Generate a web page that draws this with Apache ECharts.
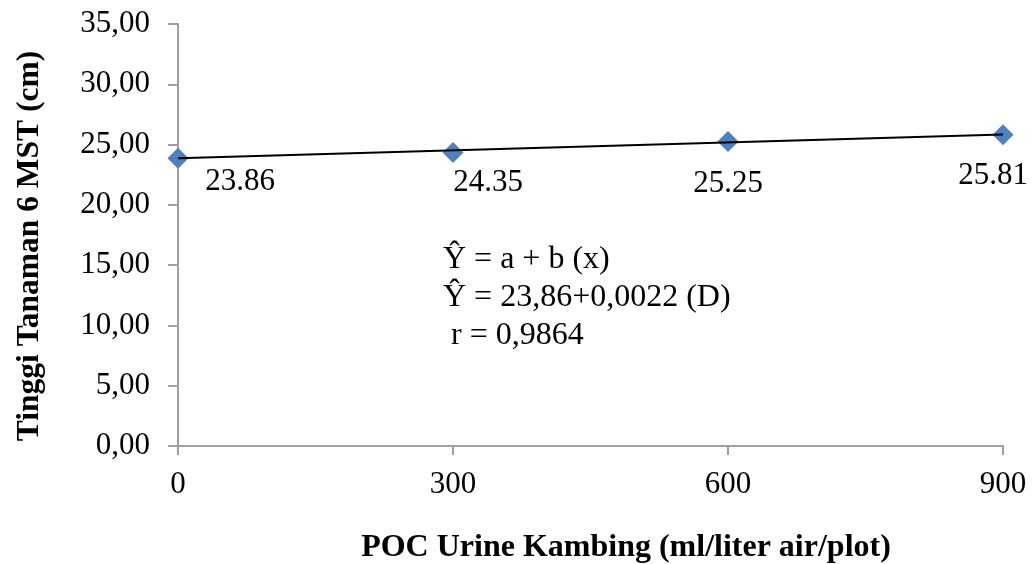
<!DOCTYPE html>
<html>
<head>
<meta charset="utf-8">
<script src="https://cdn.jsdelivr.net/npm/echarts@6/dist/echarts.min.js"></script>
<style>html,body{margin:0;padding:0;background:#fff}#c{width:1034px;height:564px}</style>
</head>
<body>
<div id="c"></div>
<script>
const doses = [0, 300, 600, 900];
const heights = [23.86, 24.35, 25.25, 25.81];
const trendX = [0, 900];
const trendY = [23.86, 25.84];
const xTitle = 'POC Urine Kambing (ml/liter air/plot)';
const yTitle = 'Tinggi Tanaman 6 MST (cm)';
const eqLines = ['Ŷ = a + b (x)', 'Ŷ = 23,86+0,0022 (D)', ' r = 0,9864'];
const labelOffsets = [[62, 24], [35, 30], [0, 42], [-10, 41]];

const FONT = '"Liberation Serif", "Times New Roman", serif';
const chart = echarts.init(document.getElementById('c'));
chart.setOption({
  animation: false,
  backgroundColor: '#fff',
  grid: { left: 178, right: 31, top: 24, bottom: 118 },
  xAxis: {
    type: 'value', min: 0, max: 900, interval: 300,
    axisLine: { show: true, lineStyle: { color: '#A0A0A0', width: 2 } },
    axisTick: { show: true, length: 9, lineStyle: { color: '#A0A0A0', width: 2 } },
    axisLabel: { color: '#000', fontFamily: FONT, fontSize: 31, margin: 23 },
    splitLine: { show: false }
  },
  yAxis: {
    type: 'value', min: 0, max: 35, interval: 5,
    axisLine: { show: true, lineStyle: { color: '#A0A0A0', width: 2 } },
    axisTick: { show: true, length: 10, lineStyle: { color: '#A0A0A0', width: 2 } },
    axisLabel: { color: '#000', fontFamily: FONT, fontSize: 31, margin: 28,
      formatter: v => v.toFixed(2).replace('.', ',') },
    splitLine: { show: false }
  },
  series: [
    {
      type: 'line',
      data: trendX.map((x, i) => [x, trendY[i]]),
      symbol: 'none',
      lineStyle: { color: '#000', width: 2 },
      z: 3
    },
    {
      type: 'scatter',
      symbol: 'diamond',
      symbolSize: [21, 21],
      itemStyle: { color: '#4F81BD', opacity: 1 },
      data: doses.map((x, i) => ({
        value: [x, heights[i]],
        label: { show: true, position: 'inside', offset: labelOffsets[i],
          formatter: heights[i].toFixed(2), color: '#000', fontFamily: FONT, fontSize: 31,
          textBorderWidth: 0 }
      })),
      z: 2
    }
  ],
  graphic: [
    { type: 'text', x: 626, y: 548, style: { text: xTitle, fontFamily: FONT, fontSize: 32, fontWeight: 'bold', fill: '#000', textAlign: 'center', textVerticalAlign: 'middle' } },
    { type: 'text', x: 30, y: 246, rotation: Math.PI / 2, style: { text: yTitle, fontFamily: FONT, fontSize: 31.5, fontWeight: 'bold', fill: '#000', textAlign: 'center', textVerticalAlign: 'middle' } },
    { type: 'text', x: 443, y: 260, style: { text: eqLines[0], fontFamily: FONT, fontSize: 32, fill: '#000', textVerticalAlign: 'middle' } },
    { type: 'text', x: 443, y: 298, style: { text: eqLines[1], fontFamily: FONT, fontSize: 32, fill: '#000', textVerticalAlign: 'middle' } },
    { type: 'text', x: 443, y: 336, style: { text: eqLines[2], fontFamily: FONT, fontSize: 32, fill: '#000', textVerticalAlign: 'middle' } }
  ]
});
</script>
</body>
</html>
